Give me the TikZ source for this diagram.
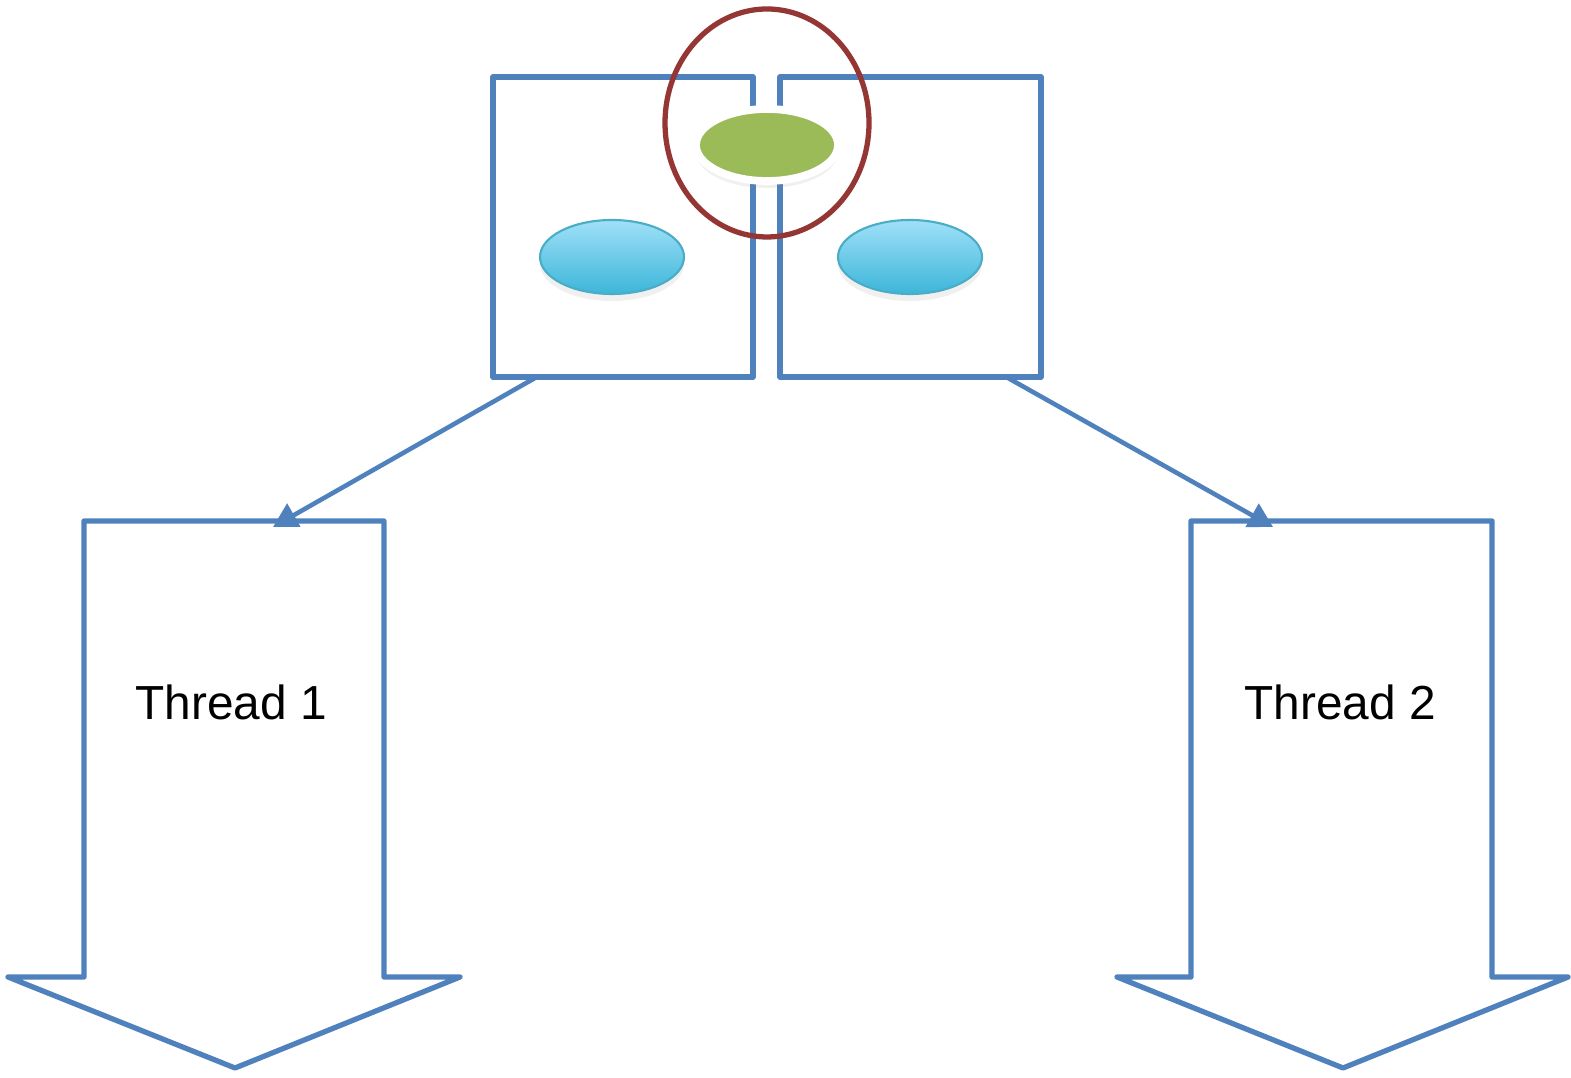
\documentclass[tikz,border=0pt]{standalone}
\usepackage{fontspec}
\setmainfont{Liberation Sans}
\usetikzlibrary{arrows.meta, shadows, shapes.geometric}
\definecolor{frameblue}{HTML}{4F81BD}
\definecolor{lockred}{HTML}{943634}
\definecolor{sharedgreen}{HTML}{9BBB59}
\definecolor{localtop}{HTML}{A0E0F8}
\definecolor{localbot}{HTML}{3CB6D9}
\definecolor{localrim}{HTML}{4BACC6}
\tikzset{
    >={Triangle[width=0.26cm, length=0.24cm]}, % filled arrow heads
    frame/.style={draw=frameblue, line width=1.5pt, minimum width=2.6cm, minimum height=3cm, line join=round}, % stack frame boxes
    softshadow/.style={drop shadow={shadow xshift=0pt, shadow yshift=-2pt, opacity=0.12}},
    localvar/.style={ellipse, draw=localrim, line width=0.6pt, top color=localtop, bottom color=localbot, minimum width=1.44cm, minimum height=0.74cm, softshadow},
    sharedvar/.style={ellipse, draw=white, line width=2.2pt, fill=sharedgreen, minimum width=1.42cm, minimum height=0.72cm, softshadow},
    lockring/.style={ellipse, draw=lockred, line width=1.5pt, minimum width=2.04cm, minimum height=2.28cm},
    threadarrow/.style={draw=frameblue, line width=1.5pt, line join=round, fill=white},
    spawn/.style={->, draw=frameblue, line width=1.3pt, fill=frameblue},
    label/.style={font=\fontsize{13.6}{16}\selectfont},
}
\begin{document}
\begin{tikzpicture}
\useasboundingbox (0,0) rectangle (15.71,10.77);
% the two frames
\node[frame] (leftframe) at (6.23,8.50) {};
\node[frame, minimum width=2.61cm] (rightframe) at (9.105,8.50) {};
% local objects
\node[localvar] (leftvar) at (6.12,8.20) {};
\node[localvar] (rightvar) at (9.10,8.20) {};
% shared object and its lock
\node[sharedvar] (shared) at (7.67,9.32) {};
\node[lockring] (lock) at (7.67,9.54) {};
% the threads
\draw[threadarrow] (0.84,5.56) -- (3.84,5.56) -- (3.84,1.00) -- (4.60,1.00) -- (2.35,0.09) -- (0.08,1.00) -- (0.84,1.00) -- cycle;
\draw[threadarrow] (11.91,5.56) -- (14.92,5.56) -- (14.92,1.00) -- (15.68,1.00) -- (13.43,0.09) -- (11.17,1.00) -- (11.91,1.00) -- cycle;
\node[label] (thread1) at (2.31,3.75) {Thread 1};
\node[label] (thread2) at (13.40,3.75) {Thread 2};
\coordinate (leftout) at (5.35,6.99);
\coordinate (rightout) at (10.08,6.99);
\coordinate (thread1in) at (2.73,5.50);
\coordinate (thread2in) at (12.73,5.50);
\draw[spawn] (leftout) -- (thread1in);
\draw[spawn] (rightout) -- (thread2in);
\end{tikzpicture}
\end{document}
